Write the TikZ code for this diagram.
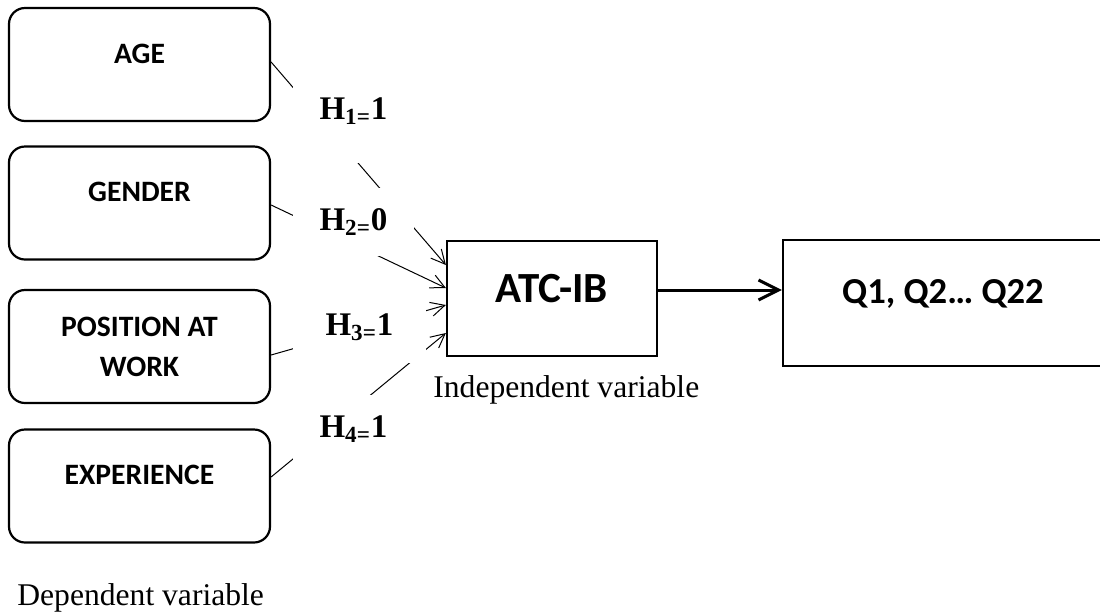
\documentclass[tikz,border=0pt]{standalone}
\usepackage{fontspec}
\setmainfont{Liberation Serif}
\newfontfamily\boxfont{Carlito}
\usepackage{xcolor}
\usepackage{tikz}
\usetikzlibrary{arrows.meta}
\usetikzlibrary{positioning}

\begin{document}
\begin{tikzpicture}[
  x=0.5pt, y=-0.5pt,
  varbox/.style={draw, line width=1.1pt, rounded corners=8pt, minimum width=130.5pt, minimum height=56.5pt,
    inner sep=0pt, align=center, font=\boxfont\bfseries\fontsize{14.8pt}{20pt}\selectfont},
  mainbox/.style={draw, line width=1.1pt, inner sep=0pt, font=\boxfont\bfseries},
  hbox/.style={fill=white, inner sep=0pt, minimum width=60.5pt, minimum height=34pt,
    font=\bfseries\fontsize{16.5pt}{18pt}\selectfont},
  hyparrow/.style={line width=0.5pt, -{Straight Barb[length=7pt,width=7pt]}},
  mainarrow/.style={line width=1.5pt, -{Straight Barb[length=10pt,width=10pt]}},
  note/.style={anchor=base west, inner sep=0pt, font=\fontsize{15.8pt}{18pt}\selectfont}]
  \useasboundingbox (0,0) rectangle (1100,612);

  % factors on the left
  \node[varbox, text depth=11pt] (age) at (139.5,64.5) {AGE};
  \node[varbox, text depth=11pt] (gender) at (139.5,203) {GENDER};
  \node[varbox] (position) at (139.5,346.5) {POSITION AT\\WORK};
  \node[varbox, text depth=11pt] (experience) at (139.5,486) {EXPERIENCE};

  % central and right boxes
  \node[mainbox, minimum width=105pt, minimum height=57.5pt, text depth=10.5pt,
    font=\boxfont\bfseries\fontsize{21.5pt}{24pt}\selectfont] (atc) at (552,298.5) {ATC-IB};
  \node[mainbox, minimum width=160pt, minimum height=63pt, text depth=12pt,
    font=\boxfont\bfseries\fontsize{18.3pt}{21pt}\selectfont] (q) at (943,303) {Q1, Q2… Q22};

  % hypotheses
  \draw[hyparrow] ([yshift=1.25pt]age.east) -- ([yshift=16.75pt]atc.west);
  \draw[hyparrow] ([yshift=-1pt]gender.east) -- ([yshift=5.25pt]atc.west);
  \draw[hyparrow] ([yshift=-4.25pt]position.east) -- ([yshift=-3.25pt]atc.west);
  \draw[hyparrow] ([yshift=4.5pt]experience.east) -- ([yshift=-17.25pt]atc.west);
  \draw[mainarrow] ([yshift=4.25pt]atc.east) -- ([yshift=4.25pt]atc.east -| q.west);

  \node[hbox, minimum height=52pt] (h1) at (353.5,111) {H\textsubscript{1=}1};
  \node[hbox] (h2) at (353.5,222) {H\textsubscript{2=}0};
  \node[hbox, minimum width=66.5pt, minimum height=36pt] (h3) at (359.5,327) {H\textsubscript{3=}1};
  \node[hbox] (h4) at (353.5,429) {H\textsubscript{4=}1};

  \node[note] (indep) at (433,397) {Independent variable};
  \node[note] (dep) at (17,605) {Dependent variable};
\end{tikzpicture}
\end{document}
